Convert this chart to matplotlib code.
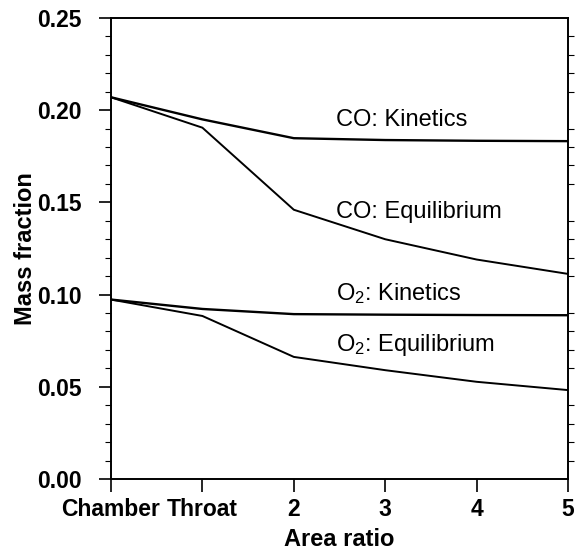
import matplotlib
matplotlib.use("Agg")
import matplotlib.pyplot as plt
from matplotlib.ticker import MultipleLocator

plt.rcParams['font.family'] = ['Liberation Sans', 'DejaVu Sans']
plt.rcParams['mathtext.fontset'] = 'custom'
plt.rcParams['mathtext.rm'] = 'Liberation Sans'
plt.rcParams['mathtext.it'] = 'Liberation Sans:italic'
plt.rcParams['mathtext.bf'] = 'Liberation Sans:bold'

# x positions: Chamber, Throat, area ratio 2..5
stations = ["Chamber", "Throat", "2", "3", "4", "5"]
co_kinetics = [0.207, 0.195, 0.1848, 0.1838, 0.1834, 0.1832]
co_equilibrium = [0.207, 0.1905, 0.146, 0.130, 0.119, 0.1112]
o2_kinetics = [0.0973, 0.0922, 0.0894, 0.0891, 0.0889, 0.0888]
o2_equilibrium = [0.0973, 0.0884, 0.0662, 0.0590, 0.0527, 0.0482]

labels = ["CO: Kinetics", "CO: Equilibrium", "O$_2$: Kinetics", "O$_2$: Equilibrium"]
label_y = [0.1946, 0.1446, 0.1003, 0.0725]

x = list(range(len(stations)))

fig = plt.figure(figsize=(5.75, 5.51), dpi=100)
ax = fig.add_axes([0.193, 0.1307, 0.795, 0.8367])

ax.plot(x, co_kinetics, color='black', lw=1.7)
ax.plot(x, co_equilibrium, color='black', lw=1.4)
ax.plot(x, o2_kinetics, color='black', lw=1.7)
ax.plot(x, o2_equilibrium, color='black', lw=1.4)

for lab, yy in zip(labels, label_y):
    ax.text(2.46, yy, lab, fontsize=17, va='center', ha='left')

ax.set_xlim(0, 5)
ax.set_ylim(0, 0.25)
ax.set_xticks(x)
ax.set_xticklabels(stations, fontweight='bold')
ax.yaxis.set_major_locator(MultipleLocator(0.05))
ax.yaxis.set_minor_locator(MultipleLocator(0.01))
ax.set_yticklabels(["%.2f" % v for v in ax.get_yticks()], fontweight='bold')

ax.tick_params(which='major', direction='out', length=9, width=1.2, labelsize=16.5)
ax.tick_params(axis='x', which='major', pad=5)
ax.tick_params(axis='y', which='major', pad=12)
ax.tick_params(which='minor', direction='out', length=4, width=0.8)
ax.tick_params(axis='y', which='minor', right=True)
for s in ax.spines.values():
    s.set_linewidth(1.4)

ax.set_xlabel("Area ratio", fontsize=17, fontweight='bold', labelpad=5)
ax.set_ylabel("Mass fraction", fontsize=17, fontweight='bold', labelpad=0)

fig.savefig("out.png", dpi=100)
